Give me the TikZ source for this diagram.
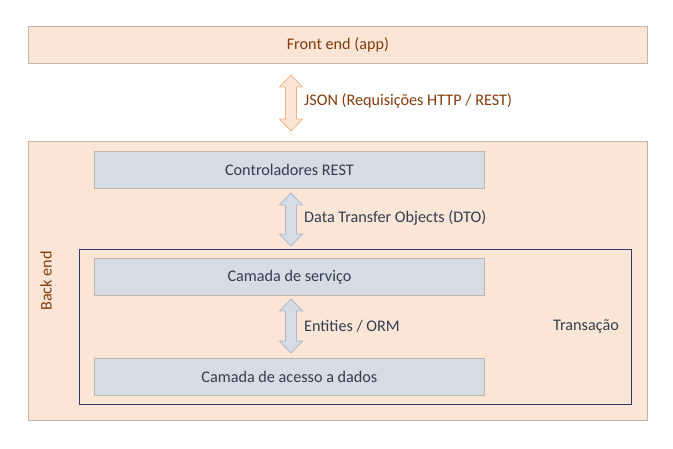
\documentclass[tikz,border=0pt]{standalone}
\usepackage{fontspec}
\setmainfont{Carlito}
\definecolor{peach}{HTML}{FBE5D6}
\definecolor{peachline}{HTML}{F4B183}
\definecolor{greyline}{HTML}{BFB5AD}
\definecolor{brown}{HTML}{843C0C}
\definecolor{bluefill}{HTML}{D6DCE5}
\definecolor{blueline}{HTML}{ADB9CA}
\definecolor{navytext}{HTML}{323F4F}
\definecolor{navyline}{HTML}{2E3A6E}
\tikzset{
  layer/.style={draw=greyline, fill=peach, line width=0.8pt, rectangle, anchor=north west, inner sep=0pt, text=brown},
  bluebox/.style={draw=greyline, fill=bluefill, line width=0.8pt, rectangle, anchor=north west, inner sep=0pt, text=navytext,
    minimum width=390pt, minimum height=37pt},
  transbox/.style={draw=navyline, line width=0.8pt, rectangle, anchor=north west, inner sep=0pt},
  lbl/.style={anchor=west, inner sep=0pt, text=navytext},
  peacharrow/.style={draw=peachline, fill=peach, line width=0.8pt, line join=miter},
  bluearrow/.style={draw=blueline, fill=bluefill, line width=0.8pt, line join=miter},
}
\newcommand\dblarrow[4]{% style, x, top, bottom
  \path[#1] (#2,#3) -- ++(11.5,12) -- ++(-6,0) -- (#2+5.5,#4-12) -- ++(6,0) -- (#2,#4)
    -- ++(-11.5,-12) -- ++(6,0) -- (#2-5.5,#3+12) -- ++(-6,0) -- cycle;}
\begin{document}
\begin{tikzpicture}[x=1pt,y=-1pt,font=\fontsize{16.2}{19}\selectfont]
\useasboundingbox (0,0) rectangle (673,449);
% front end
\node[layer, minimum width=619pt, minimum height=37pt] (front) at (28,26) {Front end (app)};
% back end
\node[layer, minimum width=619pt, minimum height=279pt] (back) at (28,141) {};
\node[rotate=90, text=brown, inner sep=0pt] (backlbl) at (46,281) {Back end};
% transaction box
\node[transbox, minimum width=552pt, minimum height=155pt] (trans) at (78.5,249) {};
\node[text=navytext, inner sep=0pt] (translbl) at (586,326) {Transação};
% layers
\node[bluebox] (ctrl) at (94,151) {Controladores REST};
\node[bluebox] (serv) at (94,258) {Camada de serviço};
\node[bluebox] (acc) at (94,358) {Camada de acesso a dados};
% arrows
\dblarrow{peacharrow}{291}{75}{131}
\dblarrow{bluearrow}{291}{193}{246}
\dblarrow{bluearrow}{291}{299}{353}
\node[lbl, text=brown] (json) at (304,101) {JSON (Requisições HTTP / REST)};
\node[lbl] (dto) at (304,218) {Data Transfer Objects (DTO)};
\node[lbl] (ent) at (304,326) {Entities / ORM};
\end{tikzpicture}
\end{document}
